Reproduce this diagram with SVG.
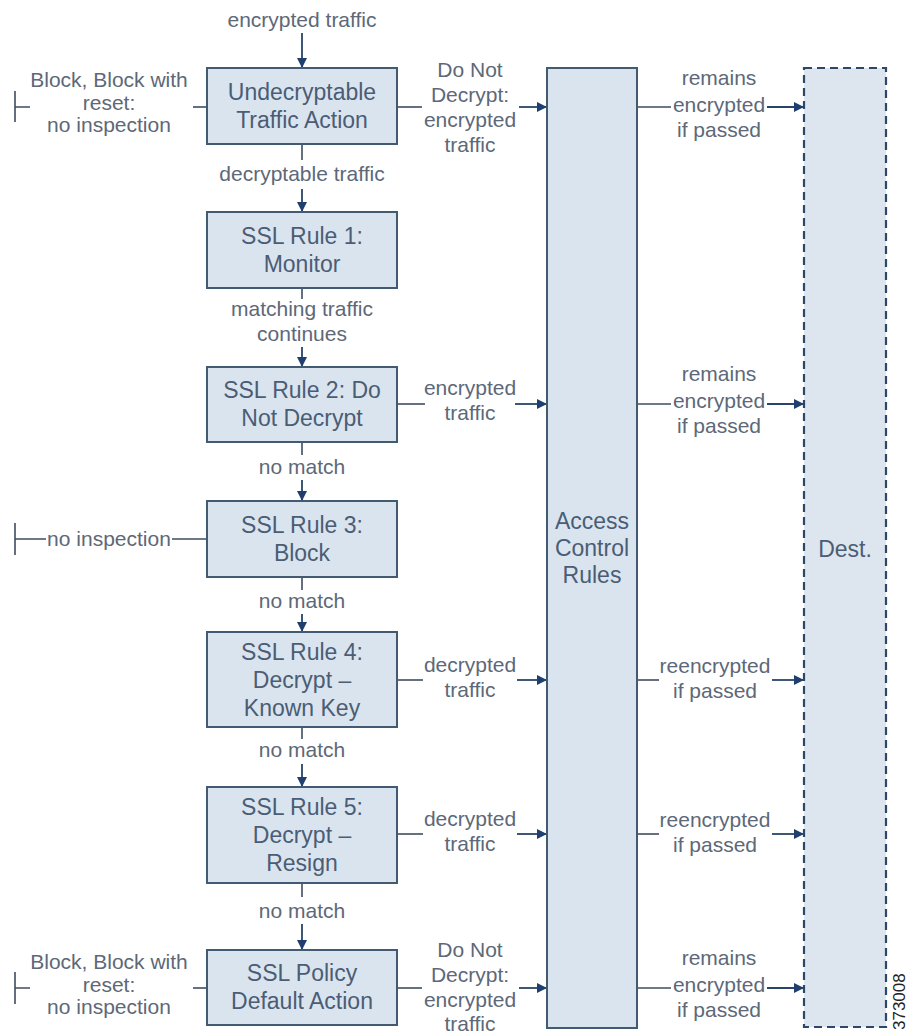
<svg xmlns="http://www.w3.org/2000/svg" width="909" height="1036" viewBox="0 0 909 1036">
<defs>
<marker id="arr" viewBox="0 0 10 10" refX="10" refY="5" markerWidth="10" markerHeight="10" markerUnits="userSpaceOnUse" orient="auto">
<path d="M0,0 L10,5 L0,10 Z" fill="#1f3f6e"/>
</marker>
<style>
.box{fill:#dae4ee;stroke:#435a73;stroke-width:2}
.dest{fill:#dde6ef;stroke:#2e4766;stroke-width:2.2;stroke-dasharray:8 5}
.bt{font-family:"Liberation Sans",Arial,sans-serif;font-size:23px;fill:#4a5d75;text-anchor:middle}
.lt{font-family:"Liberation Sans",Arial,sans-serif;font-size:21px;fill:#5d6878;text-anchor:middle}
.ln{fill:none;stroke:#3e4d60;stroke-width:1.6}
.ar{fill:none;stroke:#2a4468;stroke-width:1.8;marker-end:url(#arr)}
</style>
</defs>
<rect width="909" height="1036" fill="#ffffff"/>

<g id="connectors">
<line class="ar" x1="302" y1="33" x2="302" y2="68"/>
<line class="ln" x1="302" y1="144" x2="302" y2="160"/>
<line class="ar" x1="302" y1="189" x2="302" y2="212"/>
<line class="ln" x1="302" y1="288" x2="302" y2="299"/>
<line class="ar" x1="302" y1="347" x2="302" y2="367"/>
<line class="ln" x1="302" y1="442" x2="302" y2="455"/>
<line class="ar" x1="302" y1="480" x2="302" y2="501"/>
<line class="ln" x1="302" y1="577" x2="302" y2="590"/>
<line class="ar" x1="302" y1="614" x2="302" y2="632"/>
<line class="ln" x1="302" y1="727" x2="302" y2="739"/>
<line class="ar" x1="302" y1="764" x2="302" y2="787"/>
<line class="ln" x1="302" y1="883" x2="302" y2="897"/>
<line class="ar" x1="302" y1="924" x2="302" y2="950"/>
<line class="ln" x1="193" y1="107" x2="207" y2="107"/>
<path class="ln" d="M15,91 V122 M15,107 H30"/>
<line class="ln" x1="172" y1="539" x2="207" y2="539"/>
<path class="ln" d="M15,523 V555 M15,539 H46"/>
<line class="ln" x1="193" y1="988" x2="207" y2="988"/>
<path class="ln" d="M15,972 V1004 M15,988 H30"/>
<line class="ln" x1="397" y1="107" x2="422" y2="107"/>
<line class="ar" x1="519" y1="107" x2="547" y2="107"/>
<line class="ln" x1="397" y1="404" x2="425" y2="404"/>
<line class="ar" x1="515" y1="404" x2="547" y2="404"/>
<line class="ln" x1="397" y1="680" x2="423" y2="680"/>
<line class="ar" x1="517" y1="680" x2="547" y2="680"/>
<line class="ln" x1="397" y1="834" x2="423" y2="834"/>
<line class="ar" x1="517" y1="834" x2="547" y2="834"/>
<line class="ln" x1="397" y1="988" x2="422" y2="988"/>
<line class="ar" x1="519" y1="988" x2="547" y2="988"/>
<line class="ln" x1="637" y1="107" x2="671" y2="107"/>
<line class="ar" x1="767" y1="107" x2="804" y2="107"/>
<line class="ln" x1="637" y1="404" x2="671" y2="404"/>
<line class="ar" x1="767" y1="404" x2="804" y2="404"/>
<line class="ln" x1="637" y1="680" x2="659" y2="680"/>
<line class="ar" x1="772" y1="680" x2="804" y2="680"/>
<line class="ln" x1="637" y1="834" x2="659" y2="834"/>
<line class="ar" x1="772" y1="834" x2="804" y2="834"/>
<line class="ln" x1="637" y1="988" x2="671" y2="988"/>
<line class="ar" x1="767" y1="988" x2="804" y2="988"/>

<text class="lt" x="302" y="27">encrypted traffic</text>
<text class="lt" x="302" y="181">decryptable traffic</text>
<text class="lt" x="302" y="316">matching traffic</text>
<text class="lt" x="302" y="341">continues</text>
<text class="lt" x="302" y="474">no match</text>
<text class="lt" x="302" y="608">no match</text>
<text class="lt" x="302" y="757">no match</text>
<text class="lt" x="302" y="918">no match</text>

<text class="lt" x="109" y="87">Block, Block with</text>
<text class="lt" x="109" y="110">reset:</text>
<text class="lt" x="109" y="132">no inspection</text>
<text class="lt" x="109" y="546">no inspection</text>
<text class="lt" x="109" y="969">Block, Block with</text>
<text class="lt" x="109" y="992">reset:</text>
<text class="lt" x="109" y="1014">no inspection</text>

<text class="lt" x="470" y="77">Do Not</text>
<text class="lt" x="470" y="102">Decrypt:</text>
<text class="lt" x="470" y="127">encrypted</text>
<text class="lt" x="470" y="152">traffic</text>
<text class="lt" x="470" y="395">encrypted</text>
<text class="lt" x="470" y="420">traffic</text>
<text class="lt" x="470" y="672">decrypted</text>
<text class="lt" x="470" y="697">traffic</text>
<text class="lt" x="470" y="826">decrypted</text>
<text class="lt" x="470" y="851">traffic</text>
<text class="lt" x="470" y="957">Do Not</text>
<text class="lt" x="470" y="982">Decrypt:</text>
<text class="lt" x="470" y="1007">encrypted</text>
<text class="lt" x="470" y="1031">traffic</text>

<text class="lt" x="719" y="85">remains</text>
<text class="lt" x="719" y="112">encrypted</text>
<text class="lt" x="719" y="137">if passed</text>
<text class="lt" x="719" y="381">remains</text>
<text class="lt" x="719" y="408">encrypted</text>
<text class="lt" x="719" y="433">if passed</text>
<text class="lt" x="715" y="673">reencrypted</text>
<text class="lt" x="715" y="698">if passed</text>
<text class="lt" x="715" y="827">reencrypted</text>
<text class="lt" x="715" y="852">if passed</text>
<text class="lt" x="719" y="965">remains</text>
<text class="lt" x="719" y="992">encrypted</text>
<text class="lt" x="719" y="1017">if passed</text>
</g>

<g id="undecryptable">
<rect class="box" x="207" y="68" width="190" height="76"/>
<text class="bt" x="302" y="100">Undecryptable</text>
<text class="bt" x="302" y="128">Traffic Action</text>
</g>
<g id="rule1">
<rect class="box" x="207" y="212" width="190" height="76"/>
<text class="bt" x="302" y="244">SSL Rule 1:</text>
<text class="bt" x="302" y="272">Monitor</text>
</g>
<g id="rule2">
<rect class="box" x="207" y="367" width="190" height="75"/>
<text class="bt" x="302" y="398">SSL Rule 2: Do</text>
<text class="bt" x="302" y="426">Not Decrypt</text>
</g>
<g id="rule3">
<rect class="box" x="207" y="501" width="190" height="76"/>
<text class="bt" x="302" y="533">SSL Rule 3:</text>
<text class="bt" x="302" y="561">Block</text>
</g>
<g id="rule4">
<rect class="box" x="207" y="632" width="190" height="95"/>
<text class="bt" x="302" y="660">SSL Rule 4:</text>
<text class="bt" x="302" y="688">Decrypt –</text>
<text class="bt" x="302" y="716">Known Key</text>
</g>
<g id="rule5">
<rect class="box" x="207" y="787" width="190" height="96"/>
<text class="bt" x="302" y="815">SSL Rule 5:</text>
<text class="bt" x="302" y="843">Decrypt –</text>
<text class="bt" x="302" y="871">Resign</text>
</g>
<g id="default">
<rect class="box" x="207" y="950" width="190" height="75"/>
<text class="bt" x="302" y="981">SSL Policy</text>
<text class="bt" x="302" y="1009">Default Action</text>
</g>
<g id="access">
<rect class="box" x="547" y="68" width="90" height="960"/>
<text class="bt" x="592" y="529">Access</text>
<text class="bt" x="592" y="556">Control</text>
<text class="bt" x="592" y="583">Rules</text>
</g>
<g id="dest">
<rect class="dest" x="804" y="68" width="82" height="959"/>
<text class="bt" x="845" y="557">Dest.</text>
</g>
<text x="905" y="1030" transform="rotate(-90 905 1030)" font-family="Liberation Sans, Arial, sans-serif" font-size="17" fill="#222">373008</text>
</svg>
